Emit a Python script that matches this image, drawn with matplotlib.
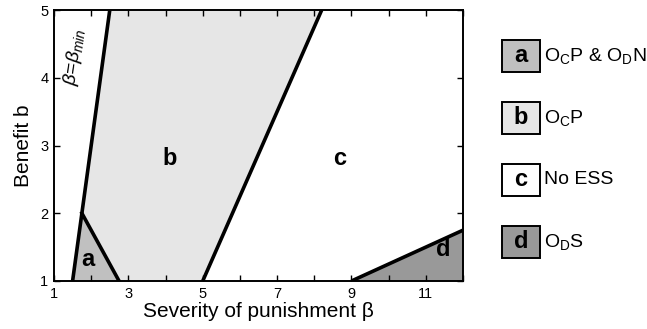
import matplotlib
matplotlib.use("Agg")
import matplotlib.pyplot as plt
from matplotlib.patches import Polygon, Rectangle

plt.rcParams['font.family'] = ['Liberation Sans', 'DejaVu Sans']
plt.rcParams['mathtext.fontset'] = 'custom'
plt.rcParams['mathtext.rm'] = 'Liberation Sans'
plt.rcParams['mathtext.it'] = 'Liberation Sans:italic'
plt.rcParams['mathtext.bf'] = 'Liberation Sans:bold'

# region boundaries in (beta, b) coordinates
beta_min_beta = [1.5, 2.5]        # beta = beta_min at b = 1 and b = 5
b_ends = [1, 5]
a_peak = (1.75, 2.0)              # top corner of region a
a_right = (2.75, 1.0)             # right corner of region a
bc_beta = [5.0, 8.2]              # b/c boundary at b = 1 and b = 5
d_beta = [9.0, 12.0]              # d boundary start / end in beta
d_b = [1.0, 1.75]

region_labels = ['a', 'b', 'c', 'd']
label_pos = [(1.92, 1.31), (4.12, 2.81), (8.69, 2.81), (11.46, 1.46)]
region_colors = ['#c0c0c0', '#e6e6e6', '#ffffff', '#999999']
legend_texts = [r'O$_\mathregular{C}$P & O$_\mathregular{D}$N',
                r'O$_\mathregular{C}$P',
                'No ESS',
                r'O$_\mathregular{D}$S']

xlim = (1, 12)
ylim = (1, 5)

fig = plt.figure(figsize=(6.47, 3.29), dpi=100)
ax = fig.add_axes([54 / 647, 48 / 329, 409 / 647, 271 / 329])
ax.set_xlim(*xlim)
ax.set_ylim(*ylim)

poly_a = [(beta_min_beta[0], b_ends[0]), a_peak, a_right]
poly_b = [a_peak, (beta_min_beta[1], b_ends[1]), (bc_beta[1], b_ends[1]),
          (bc_beta[0], b_ends[0]), a_right]
poly_d = [(d_beta[0], d_b[0]), (d_beta[1], d_b[1]), (d_beta[1], d_b[0])]

for poly, col in [(poly_b, region_colors[1]), (poly_a, region_colors[0]),
                  (poly_d, region_colors[3])]:
    ax.add_patch(Polygon(poly, closed=True, facecolor=col, edgecolor='none', zorder=1))

lw = 2.6
ax.plot(beta_min_beta, b_ends, color='k', lw=lw, zorder=3, solid_capstyle='butt')
ax.plot([a_peak[0], a_right[0]], [a_peak[1], a_right[1]], color='k', lw=lw, zorder=3)
ax.plot(bc_beta, b_ends, color='k', lw=lw, zorder=3, solid_capstyle='butt')
ax.plot(d_beta, d_b, color='k', lw=lw, zorder=3, solid_capstyle='butt')

for lab, (x, y) in zip(region_labels, label_pos):
    ax.text(x, y, lab, fontsize=17, fontweight='bold', ha='center', va='center', zorder=4)

ax.text(1.56, 4.3, r'$\beta$=$\beta_{min}$', fontsize=14, rotation=82,
        ha='center', va='center', zorder=4)

ax.set_xticks(range(1, 13))
ax.set_xticklabels([str(v) if v % 2 == 1 else '' for v in range(1, 13)])
ax.set_yticks(range(1, 6))
ax.tick_params(direction='in', top=True, right=True, length=4, width=1,
               labelsize=10.5, pad=4)
for s in ax.spines.values():
    s.set_linewidth(1.4)
    s.set_zorder(5)

ax.set_xlabel('Severity of punishment β', fontsize=15, labelpad=1)
ax.set_ylabel('Benefit b', fontsize=15, labelpad=5)

# legend drawn in pixel coordinates on its own axes
lax = fig.add_axes([0, 0, 1, 1])
lax.set_xlim(0, 647)
lax.set_ylim(329, 0)
lax.axis('off')
legend_y = [56, 118, 180, 242]
for lab, col, txt, y in zip(region_labels, region_colors, legend_texts, legend_y):
    lax.add_patch(Rectangle((502, y - 16), 38, 32, facecolor=col,
                            edgecolor='k', lw=1.4))
    lax.text(521, y, lab, fontsize=17, fontweight='bold', ha='center', va='center')
    lax.text(544, y, txt, fontsize=14, ha='left', va='center')

fig.savefig('out.png', dpi=100)
